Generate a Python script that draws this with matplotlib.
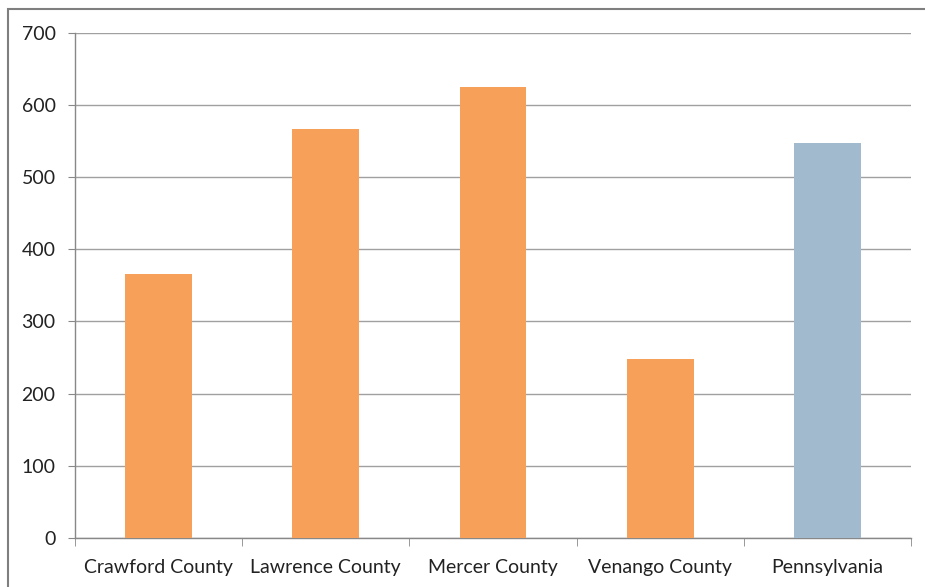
import matplotlib
matplotlib.use("Agg")
import matplotlib.pyplot as plt
from matplotlib.patches import Rectangle

categories = ["Crawford County", "Lawrence County", "Mercer County", "Venango County", "Pennsylvania"]
values = [365, 566, 624, 248, 547]
colors = ["#F6A05A", "#F6A05A", "#F6A05A", "#F6A05A", "#A2BACD"]
yticks = [0, 100, 200, 300, 400, 500, 600, 700]

plt.rcParams['font.family'] = ['Lato', 'DejaVu Sans']

fig = plt.figure(figsize=(9.25, 5.87), dpi=100)
ax = fig.add_axes([75/925, 1-538/587, (911-75)/925, (538-32.5)/587])

x = list(range(len(categories)))
ax.bar(x, values, width=0.4, color=colors, zorder=3)
ax.set_xlim(-0.5, len(categories)-0.5)
ax.set_ylim(0, 700)
ax.set_yticks(yticks)
ax.set_yticklabels([str(v) for v in yticks], fontsize=14, color='#222222')
ax.set_xticks(x)
ax.set_xticklabels(categories, fontsize=14, color='#222222')
ax.tick_params(axis='x', length=0, pad=15)
ax.tick_params(axis='y', length=5, color='#888888', pad=9)
# category boundary ticks
ax.set_xticks([i - 0.5 for i in range(len(categories)+1)], minor=True)
ax.tick_params(axis='x', which='minor', length=6, color='#888888')
ax.grid(axis='y', color='#A0A0A0', linewidth=1, zorder=0)
for s in ['top', 'right']:
    ax.spines[s].set_visible(False)
for s in ['left', 'bottom']:
    ax.spines[s].set_color('#888888')
    ax.spines[s].set_linewidth(1)

fig.patches.append(Rectangle((8/925, -0.1), 1.2, 1-8.5/587+0.1, transform=fig.transFigure,
                             fill=False, edgecolor='#7F7F7F', linewidth=1.5, zorder=0))

fig.savefig("out.png", dpi=100)
